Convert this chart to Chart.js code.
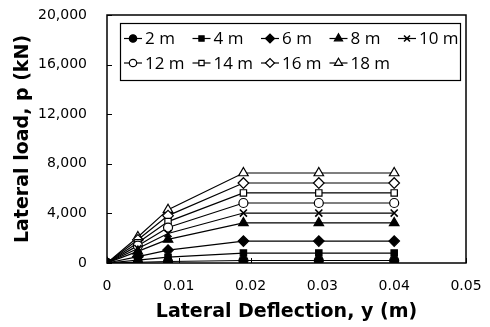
<!DOCTYPE html>
<html lang="en">
<head>
  <meta charset="UTF-8" />
  <title>Lateral load vs deflection</title>
  <script src="https://cdn.jsdelivr.net/npm/chart.js"></script>
  <style>
    * { margin: 0; padding: 0; box-sizing: border-box; }
    body { background: #fff; width: 490px; height: 327px; overflow: hidden; }
    #wrap { position: relative; width: 490px; height: 327px; }
  </style>
</head>
<body>
  <div id="wrap"><canvas id="pyChart"></canvas></div>
  <script>
    // deflection y (m) at each load step
    const deflection = [0, 0.0043, 0.0085, 0.019, 0.0295, 0.04];
    // lateral load p (kN) for each pile length
    const load2m  = [0, 60, 120, 200, 200, 200];
    const load4m  = [0, 230, 470, 800, 800, 800];
    const load6m  = [0, 510, 1040, 1770, 1770, 1770];
    const load8m  = [0, 940, 1900, 3230, 3230, 3230];
    const load10m = [0, 1170, 2380, 4030, 4030, 4030];
    const load12m = [0, 1400, 2860, 4840, 4840, 4840];
    const load14m = [0, 1640, 3340, 5650, 5650, 5650];
    const load16m = [0, 1870, 3820, 6450, 6450, 6450];
    const load18m = [0, 2100, 4300, 7260, 7260, 7260];
    const seriesLabels = ['2 m', '4 m', '6 m', '8 m', '10 m', '12 m', '14 m', '16 m', '18 m'];
    const seriesLoads = [load2m, load4m, load6m, load8m, load10m, load12m, load14m, load16m, load18m];
    const markerStyles = ['circle', 'rect', 'rectRot', 'triangle', 'crossRot', 'circle', 'rect', 'rectRot', 'triangle'];
    const markerFilled = [true, true, true, true, true, false, false, false, false];

    const markerSize = s => s === 'triangle' ? 5.5 : (s === 'rectRot' ? 5.3 : (s === 'crossRot' ? 5 : 4.5));

    const datasets = seriesLabels.map((lab, i) => ({
      label: lab,
      data: deflection.map((x, j) => ({ x: x, y: seriesLoads[i][j] })),
      borderColor: '#000',
      borderWidth: 1.2,
      pointStyle: markerStyles[i],
      pointRadius: markerSize(markerStyles[i]),
      pointBackgroundColor: markerFilled[i] ? '#000' : '#fff',
      pointBorderColor: '#000',
      pointBorderWidth: markerStyles[i] === 'crossRot' ? 1.6 : 1.2,
      tension: 0,
      fill: false
    }));

    // plot frame, inward tick marks and the boxed legend
    const framePlugin = {
      id: 'frame',
      beforeDatasetsDraw(chart) {
        const { ctx, chartArea: a, scales } = chart;
        ctx.save();
        ctx.strokeStyle = '#000';
        ctx.lineWidth = 1.5;
        ctx.strokeRect(a.left, a.top, a.right - a.left, a.bottom - a.top);
        ctx.lineWidth = 1;
        scales.y.ticks.forEach(t => {
          const py = Math.round(scales.y.getPixelForValue(t.value)) + 0.5;
          ctx.beginPath(); ctx.moveTo(a.left, py); ctx.lineTo(a.left + 5, py); ctx.stroke();
        });
        scales.x.ticks.forEach(t => {
          const px = Math.round(scales.x.getPixelForValue(t.value)) + 0.5;
          ctx.beginPath(); ctx.moveTo(px, a.bottom); ctx.lineTo(px, a.bottom - 5); ctx.stroke();
        });
        ctx.restore();
      },
      afterDraw(chart) {
        const ctx = chart.ctx;
        const box = { left: 120, top: 23, right: 460, bottom: 80 };
        const rowY = [38.5, 63];
        const colW = 68.5;
        ctx.save();
        ctx.fillStyle = '#fff';
        ctx.fillRect(box.left, box.top, box.right - box.left, box.bottom - box.top);
        ctx.strokeStyle = '#000';
        ctx.lineWidth = 1.2;
        ctx.strokeRect(box.left + 0.5, box.top + 0.5, box.right - box.left, box.bottom - box.top);
        ctx.font = '17px "Open Sans"';
        ctx.textBaseline = 'middle';
        chart.data.datasets.forEach((ds, i) => {
          const row = i < 5 ? 0 : 1;
          const col = i < 5 ? i : i - 5;
          const cx = box.left + 13 + col * colW;
          const cy = rowY[row];
          ctx.strokeStyle = '#000';
          ctx.lineWidth = 1.2;
          ctx.beginPath(); ctx.moveTo(cx - 9, cy); ctx.lineTo(cx + 9, cy); ctx.stroke();
          ctx.fillStyle = ds.pointBackgroundColor;
          ctx.lineWidth = ds.pointBorderWidth;
          Chart.helpers.drawPoint(ctx, { pointStyle: ds.pointStyle, radius: ds.pointRadius - 0.8, rotation: 0, borderWidth: ds.pointBorderWidth }, cx, cy);
          ctx.fillStyle = '#000';
          ctx.fillText(ds.label, cx + 12, cy + 1);
        });
        ctx.restore();
      }
    };

    const ctx = document.getElementById('pyChart').getContext('2d');
    new Chart(ctx, {
      type: 'line',
      data: { datasets: datasets },
      options: {
        responsive: true,
        maintainAspectRatio: false,
        animation: false,
        layout: { padding: { left: 0, right: 24, top: 15, bottom: 0 } },
        plugins: { legend: { display: false }, tooltip: { enabled: false } },
        scales: {
          x: {
            type: 'linear',
            min: 0, max: 0.05,
            grid: { display: false, drawTicks: false },
            border: { display: false },
            afterFit: s => { s.height = 64; s.paddingLeft = 0; s.paddingRight = 0; },
            ticks: {
              stepSize: 0.01,
              color: '#000',
              padding: 15,
              maxRotation: 0,
              font: { family: 'DejaVu Sans', size: 14 },
              callback: v => Number(v.toFixed(2)).toString()
            },
            title: {
              display: true,
              text: 'Lateral Deflection, y (m)',
              color: '#000',
              font: { family: 'DejaVu Sans', size: 19, weight: 'bold' },
              padding: { top: 0, bottom: 4 }
            }
          },
          y: {
            min: 0, max: 20000,
            grid: { display: false, drawTicks: false },
            border: { display: false },
            afterFit: s => { s.width = 107; s.paddingTop = 0; s.paddingBottom = 0; },
            ticks: {
              stepSize: 4000,
              color: '#000',
              padding: 20,
              font: { family: 'DejaVu Sans', size: 14 },
              callback: v => v.toLocaleString('en-US')
            },
            title: {
              display: true,
              text: 'Lateral load, p (kN)',
              color: '#000',
              font: { family: 'DejaVu Sans', size: 19, weight: 'bold' },
              padding: { top: 12, bottom: 0 }
            }
          }
        }
      },
      plugins: [framePlugin]
    });
  </script>
</body>
</html>
